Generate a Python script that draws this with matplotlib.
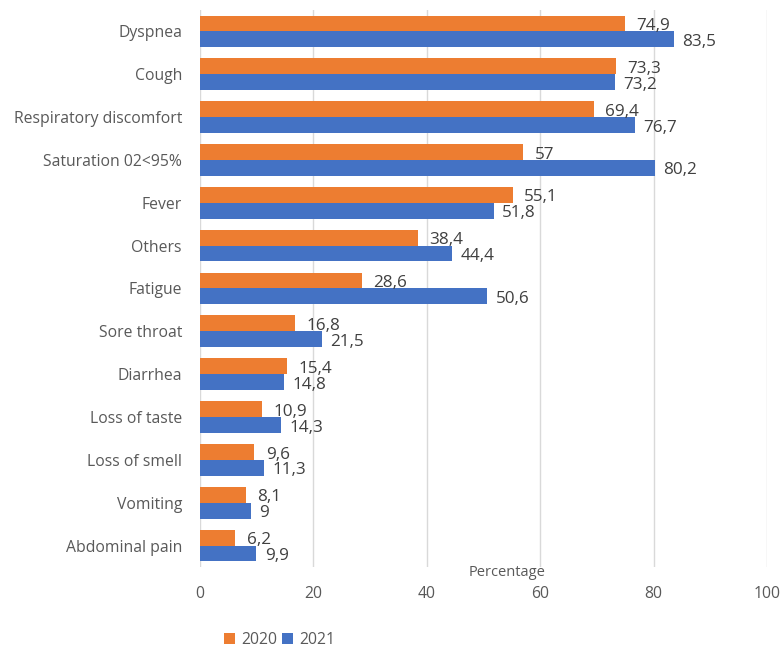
import numpy as np
import matplotlib.pyplot as plt

plt.rcParams['font.family'] = ['Open Sans', 'DejaVu Sans']

symptoms = ['Dyspnea', 'Cough', 'Respiratory discomfort', 'Saturation 02<95%', 'Fever',
            'Others', 'Fatigue', 'Sore throat', 'Diarrhea', 'Loss of taste',
            'Loss of smell', 'Vomiting', 'Abdominal pain']
y2020 = [74.9, 73.3, 69.4, 57, 55.1, 38.4, 28.6, 16.8, 15.4, 10.9, 9.6, 8.1, 6.2]
y2021 = [83.5, 73.2, 76.7, 80.2, 51.8, 44.4, 50.6, 21.5, 14.8, 14.3, 11.3, 9, 9.9]

c2020 = '#ED7D31'
c2021 = '#4472C4'

fig = plt.figure(figsize=(7.82, 6.49), dpi=100)
ax = fig.add_axes([0.2558, 0.1264, 0.7252, 0.8582])

y = np.arange(len(symptoms))
h = 0.37
ax.barh(y - h / 2, y2020, height=h, color=c2020, label='2020', zorder=3)
ax.barh(y + h / 2, y2021, height=h, color=c2021, label='2021', zorder=3)


def fmt(v):
    s = ('%.1f' % v).rstrip('0').rstrip('.')
    return s.replace('.', ',')


for i in range(len(symptoms)):
    ax.text(y2020[i] + 2.0, y[i] - h / 2 + 0.06, fmt(y2020[i]), va='center', ha='left',
            fontsize=12.3, color='#404040', zorder=4)
    ax.text(y2021[i] + 1.5, y[i] + h / 2 + 0.06, fmt(y2021[i]), va='center', ha='left',
            fontsize=12.3, color='#404040', zorder=4)

ax.set_ylim(len(symptoms) - 0.5, -0.5)
ax.set_xlim(0, 100)
ax.set_xticks([0, 20, 40, 60, 80, 100])
ax.set_yticks(y)
ax.set_yticklabels(symptoms)
ax.tick_params(axis='both', length=0, labelsize=11.3, colors='#595959')
ax.tick_params(axis='x', pad=14)
ax.tick_params(axis='y', pad=13)
ax.grid(axis='x', color='#D9D9D9', linewidth=1, zorder=0)
for s in ax.spines.values():
    s.set_visible(False)

fig.text(507 / 782, 1 - 573 / 649, 'Percentage', ha='center', va='center',
         fontsize=10.5, color='#595959')

fig.legend(loc='center left', bbox_to_anchor=(210 / 782, 1 - 640 / 649), ncol=2,
           frameon=False, fontsize=11.3, handlelength=0.7, handleheight=0.7,
           columnspacing=0.3, handletextpad=0.4, labelcolor='#595959')

fig.savefig('out.png', dpi=100)
